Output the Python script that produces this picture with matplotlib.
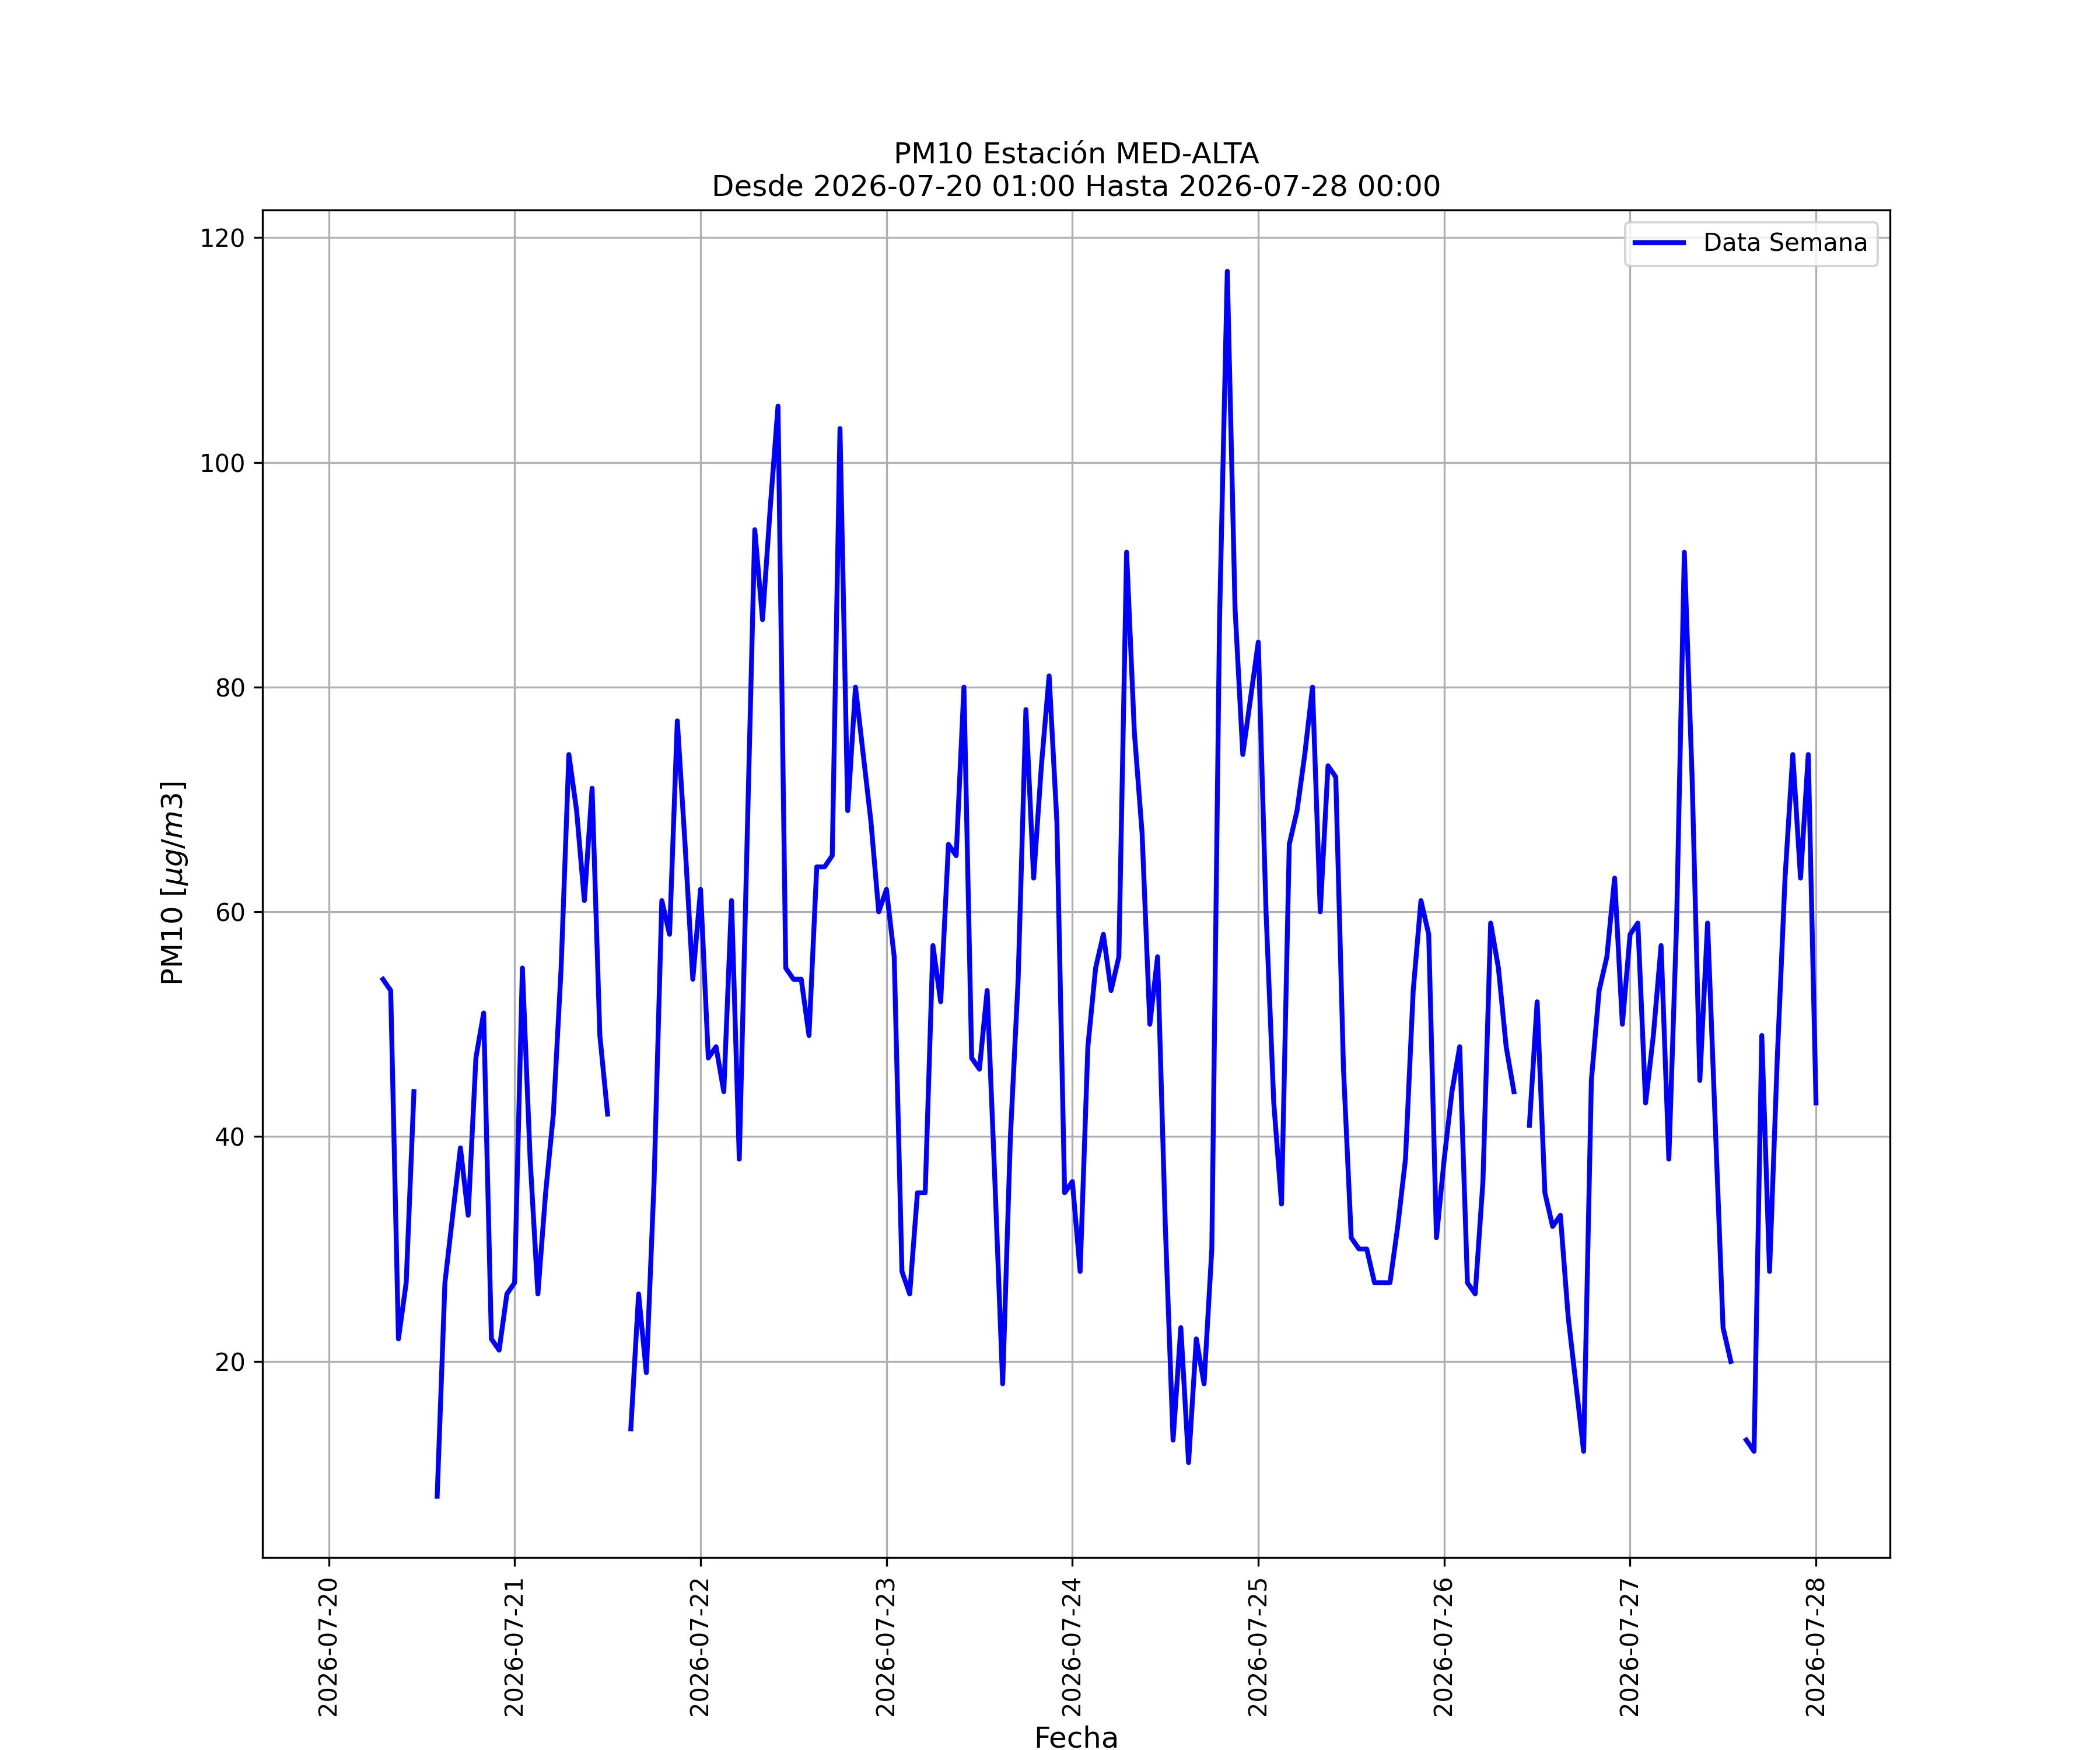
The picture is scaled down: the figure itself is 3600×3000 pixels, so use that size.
import numpy as np
import pandas as pd
import matplotlib
matplotlib.use("Agg")
import matplotlib.pyplot as plt
import matplotlib.dates as mdates

nan = np.nan

# hourly PM10 readings, 2026-07-20 01:00 .. 2026-07-28 00:00 (nan = no data)
fechas = pd.date_range("2026-07-20 01:00", "2026-07-28 00:00", freq="h")

dia_20 = [nan, nan, nan, nan, nan, nan, 54, 53, 22, 27, 44, nan,
          nan, 8, 27, 33, 39, 33, 47, 51, 22, 21, 26, 27]
dia_21 = [55, 38, 26, 35, 42, 55, 74, 69, 61, 71, 49, 42,
          nan, nan, 14, 26, 19, 36, 61, 58, 77, 66, 54, 62]
dia_22 = [47, 48, 44, 61, 38, 66, 94, 86, 96, 105, 55, 54,
          54, 49, 64, 64, 65, 103, 69, 80, 74, 68, 60, 62]
dia_23 = [56, 28, 26, 35, 35, 57, 52, 66, 65, 80, 47, 46,
          53, 36, 18, 40, 54, 78, 63, 73, 81, 68, 35, 36]
dia_24 = [28, 48, 55, 58, 53, 56, 92, 76, 67, 50, 56, 32,
          13, 23, 11, 22, 18, 30, 86, 117, 87, 74, 79, 84]
dia_25 = [60, 43, 34, 66, 69, 74, 80, 60, 73, 72, 46, 31,
          30, 30, 27, 27, 27, 32, 38, 53, 61, 58, 31, 38]
dia_26 = [44, 48, 27, 26, 36, 59, 55, 48, 44, nan, 41, 52,
          35, 32, 33, 24, 18, 12, 45, 53, 56, 63, 50, 58]
dia_27 = [59, 43, 49, 57, 38, 59, 92, 72, 45, 59, 41, 23,
          20, nan, 13, 12, 49, 28, 47, 63, 74, 63, 74, 43]

pm10 = dia_20 + dia_21 + dia_22 + dia_23 + dia_24 + dia_25 + dia_26 + dia_27

fig, ax = plt.subplots(figsize=(12, 10), dpi=300)
ax.plot(fechas, pm10, color="blue", linewidth=2, label="Data Semana")

ax.set_title("PM10 Estación MED-ALTA\nDesde 2026-07-20 01:00 Hasta 2026-07-28 00:00")
ax.set_xlabel("Fecha", fontsize=12)
ax.set_ylabel(r"PM10 [$\mu g/m3$]", fontsize=12)

# x range covers the whole week (incl. the empty first hours) with 5% margin
margen = (fechas[-1] - fechas[0]) * 0.05
ax.set_xlim(fechas[0] - margen, fechas[-1] + margen)

ax.xaxis.set_major_locator(mdates.DayLocator())
ax.xaxis.set_major_formatter(mdates.DateFormatter("%Y-%m-%d"))
plt.setp(ax.get_xticklabels(), rotation=90)

ax.grid(True)
ax.legend(loc="upper right")

fig.savefig("out.png", dpi=300)
